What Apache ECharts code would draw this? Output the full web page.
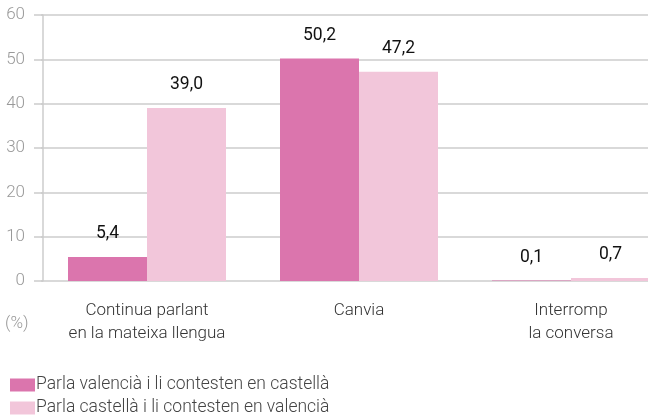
<!DOCTYPE html>
<html>
<head>
<meta charset="utf-8">
<script src="https://cdn.jsdelivr.net/npm/echarts@6/dist/echarts.min.js"></script>
<style>
  html, body { margin: 0; padding: 0; background: #fff; }
  #chart { width: 648px; height: 416px; }
</style>
</head>
<body>
<div id="chart"></div>
<script>
// reaccions davant d'una conversa
const categories = ['Continua parlant\nen la mateixa llengua', 'Canvia', 'Interromp\nla conversa'];
const seriesNames = ['Parla valencià i li contesten en castellà', 'Parla castellà i li contesten en valencià'];
const valValencia = [5.4, 50.2, 0.1];
const valCastella = [39.0, 47.2, 0.7];
const yTicks = [0, 10, 20, 30, 40, 50, 60];

const colors = ['#db75ad', '#f2c6da'];
const font = 'Roboto, "Liberation Sans", sans-serif';

function fmt(p) {
    return p.value.toFixed(1).replace('.', ',');
}

function makeSeries(name, data, color) {
    return {
        name: name,
        type: 'bar',
        data: data,
        barWidth: 79,
        barGap: '0%',
        itemStyle: { color: color },
        label: {
            show: true,
            position: 'top',
            distance: 14,
            formatter: fmt,
            color: '#111',
            fontFamily: font,
            fontSize: 17.5
        }
    };
}

function makeLegend(name, top) {
    return {
        left: 5,
        top: top,
        itemWidth: 25,
        itemHeight: 13,
        itemGap: 0,
        icon: 'rect',
        textStyle: { color: '#444', fontSize: 17.5, fontWeight: 300, fontFamily: font, padding: [0, 0, 0, -4] },
        data: [name]
    };
}

const option = {
    animation: false,
    textStyle: { fontFamily: font },
    grid: { left: 41, width: 636, top: 15, height: 266, outerBoundsMode: 'none', containLabel: false },
    legend: [makeLegend(seriesNames[0], 371), makeLegend(seriesNames[1], 394)],
    xAxis: {
        type: 'category',
        data: categories,
        axisLine: { show: false },
        axisTick: { show: false },
        axisLabel: {
            interval: 0,
            color: '#333',
            fontSize: 17,
            fontWeight: 300,
            lineHeight: 23,
            margin: 18,
            fontFamily: font
        }
    },
    yAxis: {
        type: 'value',
        offset: -2,
        min: yTicks[0],
        max: yTicks[yTicks.length - 1],
        interval: 10,
        axisLine: { show: true, lineStyle: { color: '#cccccc', width: 1.5 } },
        axisTick: { show: true, length: 9, lineStyle: { color: '#cccccc', width: 1.5 } },
        splitLine: { lineStyle: { color: '#cccccc', width: 1.5 } },
        axisLabel: {
            color: '#999',
            fontSize: 17,
            fontWeight: 300,
            margin: 18,
            fontFamily: font
        }
    },
    graphic: [{
        type: 'text',
        left: 5,
        top: 315,
        style: { text: '(%)', fill: '#999', fontSize: 17, fontWeight: 300, fontFamily: font }
    }],
    series: [
        makeSeries(seriesNames[0], valValencia, colors[0]),
        makeSeries(seriesNames[1], valCastella, colors[1])
    ]
};

const myChart = echarts.init(document.getElementById('chart'));
myChart.setOption(option);
</script>
</body>
</html>
